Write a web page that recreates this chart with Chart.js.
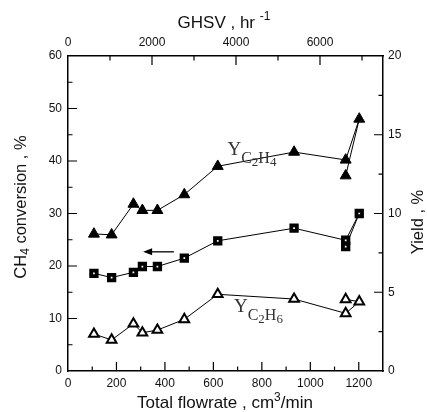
<!DOCTYPE html>
<html>
<head>
<meta charset="utf-8">
<script src="https://cdn.jsdelivr.net/npm/chart.js@4/dist/chart.umd.min.js"></script>
<style>
  body { margin: 0; background: #fff; }
  #wrap { width: 427px; height: 412px; }
</style>
</head>
<body>
<div id="wrap"><canvas id="chart"></canvas></div>
<script>
// CH4 conversion (left axis, %)
const convFlow = [107, 180, 270, 307, 369, 480, 618, 933, 1146, 1202, 1146];
const convVals = [18.6, 17.8, 18.8, 19.9, 19.9, 21.5, 24.8, 27.2, 24.9, 30.0, 23.7];

// C2H4 yield (right axis, %)
const c2h4Flow = [107, 180, 270, 307, 369, 480, 618, 933, 1146, 1202, 1146];
const c2h4Vals = [8.7, 8.65, 10.6, 10.2, 10.2, 11.2, 13.0, 13.9, 13.4, 16.0, 12.4];

// C2H6 yield (right axis, %)
const c2h6Flow = [107, 180, 270, 307, 369, 480, 618, 933, 1146, 1202, 1146];
const c2h6Vals = [2.35, 1.97, 3.0, 2.43, 2.6, 3.28, 4.87, 4.57, 3.66, 4.4, 4.55];

// tick labels
const flowTicks = [0, 200, 400, 600, 800, 1000, 1200];
const ghsvTicks = [0, 2000, 4000, 6000];
const convTicks = [0, 10, 20, 30, 40, 50, 60];
const yieldTicks = [0, 5, 10, 15, 20];

const toPoints = (xs, ys) => xs.map((x, i) => ({ x: x, y: ys[i] }));
const fixTicks = list => scale => { scale.ticks = list.map(v => ({ value: v })); };

const sans = '"Liberation Sans", Arial, sans-serif';
const serif = '"Liberation Serif", "Times New Roman", serif';

// draw text made of runs with different size / vertical offset
function drawRuns(ctx, runs, x, y, align) {
    let total = 0;
    runs.forEach(r => {
        ctx.font = r.size + 'px ' + (r.font || sans);
        r.w = ctx.measureText(r.t).width;
        total += r.w;
    });
    let cx = align === 'center' ? x - total / 2 : x;
    runs.forEach(r => {
        ctx.font = r.size + 'px ' + (r.font || sans);
        ctx.fillText(r.t, cx, y + (r.dy || 0));
        cx += r.w;
    });
}

const decor = {
    id: 'decor',
    afterDraw(chart) {
        const ctx = chart.ctx;
        const a = chart.chartArea;
        const sx = chart.scales.x, sy = chart.scales.y, sy2 = chart.scales.y2, st = chart.scales.xTop;
        ctx.save();
        ctx.strokeStyle = '#000';
        ctx.lineWidth = 1.2;

        // inward ticks
        ctx.beginPath();
        for (let v = 100; v < 1300; v += 100) {
            const p = sx.getPixelForValue(v);
            const len = v % 200 === 0 ? 9 : 4.5;
            ctx.moveTo(p, a.bottom); ctx.lineTo(p, a.bottom - len);
        }
        for (let v = 1000; v < 7500; v += 1000) {
            const p = st.getPixelForValue(v);
            const len = v % 2000 === 0 ? 9 : 4.5;
            ctx.moveTo(p, a.top); ctx.lineTo(p, a.top + len);
        }
        for (let v = 5; v < 60; v += 5) {
            const p = sy.getPixelForValue(v);
            const len = v % 10 === 0 ? 9 : 4.5;
            ctx.moveTo(a.left, p); ctx.lineTo(a.left + len, p);
        }
        for (let v = 2.5; v < 20; v += 2.5) {
            const p = sy2.getPixelForValue(v);
            const len = v % 5 === 0 ? 9 : 4.5;
            ctx.moveTo(a.right, p); ctx.lineTo(a.right - len, p);
        }
        ctx.stroke();

        // arrow pointing to the left axis
        const ay = sy.getPixelForValue(22.7);
        const ax1 = sx.getPixelForValue(437), ax2 = sx.getPixelForValue(310);
        ctx.lineWidth = 1.3;
        ctx.beginPath();
        ctx.moveTo(ax1, ay); ctx.lineTo(ax2 + 6, ay);
        ctx.stroke();
        ctx.fillStyle = '#000';
        ctx.beginPath();
        ctx.moveTo(ax2, ay); ctx.lineTo(ax2 + 9, ay - 3.5); ctx.lineTo(ax2 + 9, ay + 3.5);
        ctx.closePath();
        ctx.fill();

        // axis titles
        ctx.fillStyle = '#111';
        ctx.textBaseline = 'middle';
        drawRuns(ctx, [{ t: 'GHSV , hr ', size: 17 }, { t: '-1', size: 12, dy: -6 }], 224, 23, 'center');
        drawRuns(ctx, [{ t: 'Total flowrate , cm', size: 17 }, { t: '3', size: 12, dy: -5 }, { t: '/min', size: 17 }], 225, 403, 'center');

        ctx.save();
        ctx.translate(21, 207);
        ctx.rotate(-Math.PI / 2);
        drawRuns(ctx, [{ t: 'CH', size: 16.5 }, { t: '4', size: 12, dy: 5 }, { t: ' conversion , %', size: 16.5 }], 0, 0, 'center');
        ctx.restore();

        ctx.save();
        ctx.translate(418, 222);
        ctx.rotate(-Math.PI / 2);
        drawRuns(ctx, [{ t: 'Yield , %', size: 16.5 }], 0, 0, 'center');
        ctx.restore();

        // series labels
        ctx.fillStyle = '#333';
        ctx.textBaseline = 'alphabetic';
        const lab = (x, y, n) => drawRuns(ctx, [
            { t: 'Y', size: 19, font: serif },
            { t: 'C', size: 16, dy: 8, font: serif },
            { t: '2', size: 13, dy: 11, font: serif },
            { t: 'H', size: 16, dy: 8, font: serif },
            { t: n, size: 13, dy: 11, font: serif }
        ], x, y, 'left');
        lab(sx.getPixelForValue(658), sy2.getPixelForValue(13.8) + 1, '4');
        lab(sx.getPixelForValue(685), sy2.getPixelForValue(4.4) + 10, '6');
        ctx.restore();
    }
};

const tickFont = { family: sans, size: 12 };
const plainNum = v => String(v);

new Chart(document.getElementById('chart'), {
    type: 'scatter',
    data: {
        datasets: [{
            label: 'CH4 conversion',
            data: toPoints(convFlow, convVals),
            yAxisID: 'y',
            showLine: true,
            borderColor: '#000',
            borderWidth: 1,
            pointStyle: 'rect',
            pointRadius: 3.9,
            pointBackgroundColor: '#fff',
            pointBorderColor: '#000',
            pointBorderWidth: 3.8
        }, {
            label: 'C2H4 yield',
            data: toPoints(c2h4Flow, c2h4Vals),
            yAxisID: 'y2',
            showLine: true,
            borderColor: '#000',
            borderWidth: 1,
            pointStyle: 'triangle',
            pointRadius: 6.3,
            pointBackgroundColor: '#000',
            pointBorderColor: '#000',
            pointBorderWidth: 1
        }, {
            label: 'C2H6 yield',
            data: toPoints(c2h6Flow, c2h6Vals),
            yAxisID: 'y2',
            showLine: true,
            borderColor: '#000',
            borderWidth: 1,
            pointStyle: 'triangle',
            pointRadius: 5.6,
            pointBackgroundColor: '#fff',
            pointBorderColor: '#000',
            pointBorderWidth: 2
        }]
    },
    options: {
        responsive: true,
        maintainAspectRatio: false,
        animation: false,
        layout: { padding: 0 },
        plugins: {
            legend: { display: false },
            tooltip: { enabled: false }
        },
        scales: {
            x: {
                type: 'linear', position: 'bottom', min: 0, max: 1300,
                grid: { display: false, drawTicks: false },
                border: { display: true, color: '#000', width: 1.5 },
                ticks: { color: '#111', font: tickFont, padding: 5, maxRotation: 0, autoSkip: false, callback: plainNum },
                afterBuildTicks: fixTicks(flowTicks),
                afterFit: s => { s.height = 41; }
            },
            xTop: {
                type: 'linear', position: 'top', min: 0, max: 7500,
                grid: { display: false, drawTicks: false },
                border: { display: true, color: '#000', width: 1.5 },
                ticks: { color: '#111', font: tickFont, padding: 6, maxRotation: 0, autoSkip: false, callback: plainNum },
                afterBuildTicks: fixTicks(ghsvTicks),
                afterFit: s => { s.height = 56; }
            },
            y: {
                type: 'linear', position: 'left', min: 0, max: 60,
                grid: { display: false, drawTicks: false },
                border: { display: true, color: '#000', width: 1.5 },
                ticks: { color: '#111', font: tickFont, padding: 6, autoSkip: false, callback: plainNum },
                afterBuildTicks: fixTicks(convTicks),
                afterFit: s => { s.width = 68; }
            },
            y2: {
                type: 'linear', position: 'right', min: 0, max: 20,
                grid: { display: false, drawTicks: false },
                border: { display: true, color: '#000', width: 1.5 },
                ticks: { color: '#111', font: tickFont, padding: 5, autoSkip: false, callback: plainNum },
                afterBuildTicks: fixTicks(yieldTicks),
                afterFit: s => { s.width = 44; }
            }
        }
    },
    plugins: [decor]
});
</script>
</body>
</html>
